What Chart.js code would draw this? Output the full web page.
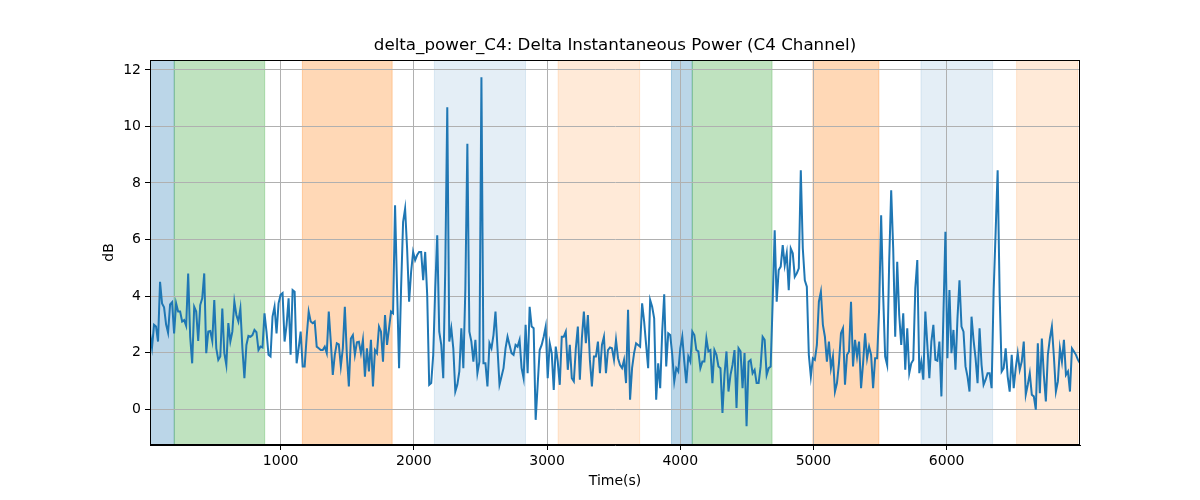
<!DOCTYPE html>
<html>
<head>
<meta charset="utf-8">
<title>delta_power_C4</title>
<script src="https://cdn.jsdelivr.net/npm/chart.js@4.4.1/dist/chart.umd.min.js"></script>
<style>
  html, body { margin: 0; padding: 0; background: #fff; }
  #wrap { width: 1200px; height: 500px; }
</style>
</head>
<body>
<div id="wrap"><canvas id="powerChart" width="1200" height="500"></canvas></div>
<script>
// sampling: first epoch time and step (seconds)
const T0 = 19;
const DT = 15.08;

// delta power in dB, one value per epoch
const deltaPower = [
  2.68, 2.18, 2.98, 2.92, 2.39, 4.5, 3.74, 3.6, 3.0, 2.7, 3.7, 3.78, 2.68, 3.74, 3.45, 3.45, 3.1, 3.15, 2.95, 4.8,
  2.56, 1.62, 3.62, 3.45, 2.41, 3.68, 3.92, 4.8, 1.98, 2.74, 2.76, 2.41, 3.86, 2.15, 1.74, 1.86, 3.56, 1.98, 1.56, 3.04,
  2.39, 2.74, 3.8, 3.33, 3.1, 3.56, 2.15, 1.09, 2.27, 2.59, 2.56,
  2.62, 2.8, 2.72, 2.09, 2.21, 2.18, 3.39, 2.74, 1.92, 1.86, 3.27, 3.62, 2.68, 3.74, 4.04, 4.1, 2.39, 2.98, 3.92, 1.92,
  4.21, 4.15, 1.62, 2.15, 2.74, 1.51, 1.51, 2.56, 3.45, 3.1, 3.04, 3.1, 2.21, 2.15, 2.09, 2.09, 2.21, 1.98, 3.45, 2.39,
  1.21, 1.92, 2.33, 2.29, 1.51, 2.15, 3.62, 1.92, 0.8, 2.5, 2.62, 1.92,
  2.36, 2.38, 1.98, 2.45, 1.15, 2.15, 1.33, 2.45, 0.8, 2.09, 1.98, 2.92, 2.74, 1.68, 3.33, 2.27, 2.86, 3.45, 3.39, 7.21,
  4.27, 1.45, 4.27, 6.62, 7.09, 5.68, 3.8, 4.86, 5.56, 5.27, 5.45, 5.56, 5.56, 4.56, 5.56, 4.04, 0.86, 0.92, 1.92, 4.27,
  6.15, 2.74, 2.27, 1.09, 4.98, 10.68, 2.39, 2.86, 2.15, 0.62, 0.86, 1.33, 2.86,
  1.45, 4.27, 9.39, 2.74, 2.39, 1.68, 2.45, 1.27, 1.68, 11.74, 1.62, 1.62, 0.8, 2.33, 2.15, 2.62, 3.45, 2.15, 0.86, 1.15,
  1.45, 2.15, 2.56, 2.27, 1.98, 1.92, 2.27, 2.21, 2.45, 1.45, 1.09, 2.98, 1.27, 3.62, 2.92, 2.86, -0.38, 0.86, 2.09, 2.27,
  2.56, 2.92, 1.09, 2.33, 1.98, 0.68, 2.21, 1.68, 0.86, 2.56, 2.56, 2.74,
  1.39, 2.27, 1.09, 0.98, 2.15, 2.92, 1.04, 2.5, 3.45, 2.33, 3.33, 1.74, 0.8, 1.86, 1.86, 2.39, 1.27, 2.27, 2.56, 1.27,
  2.09, 2.18, 2.15, 1.74, 2.45, 1.8, 1.56, 1.45, 1.74, 0.92, 3.51, 0.33, 1.45, 1.98, 2.33, 2.27, 2.21, 3.74, 3.1, 2.27,
  1.45, 3.86, 3.62, 3.21, 0.33, 1.62, 0.74, 2.74, 4.06, 1.51, 2.68, 2.62,
  1.92, 0.98, 1.45, 1.33, 2.15, 2.56, 1.68, 0.92, 1.86, 1.68, 2.74, 2.62, 2.09, 2.04, 1.45, 1.68, 1.68, 2.5, 2.04, 2.09,
  0.92, 2.09, 1.92, 1.51, 1.45, -0.14, 1.21, 2.04, 0.62, 1.21, 1.56, 2.09, 0.04, 2.15, 2.04, 0.74, 1.98, -0.61, 1.68, 1.74,
  1.27, 1.39, 0.92, 0.92, 1.51, 2.56, 2.45, 1.21, 1.45, 1.51, 3.8, 6.33, 3.8,
  4.92, 5.04, 5.8, 5.09, 5.51, 4.21, 5.68, 5.51, 4.68, 4.8, 4.98, 8.45, 5.68, 4.56, 4.33, 1.92, 1.15, 1.8, 1.74, 2.27,
  3.8, 4.15, 2.98, 2.56, 1.68, 2.39, 1.45, 1.86, 0.62, 0.92, 1.62, 2.68, 2.86, 0.86, 1.92, 2.04, 3.8, 1.51, 2.45, 1.86,
  2.39, 0.74, 1.62, 2.68, 1.8, 2.21, 1.92, 0.74, 1.8, 1.8, 3.56, 6.86,
  4.04, 1.86, 1.56, 5.21, 7.74, 5.68, 2.56, 5.21, 3.33, 2.27, 3.39, 1.39, 2.86, 1.27, 1.62, 1.74, 4.27, 5.27, 1.27, 1.68,
  1.04, 3.45, 2.27, 1.09, 2.39, 2.98, 1.74, 1.71, 2.39, 0.45, 3.33, 6.27, 1.8, 4.21, 1.98, 2.8, 1.39, 3.21, 4.56, 2.92,
  2.74, 1.51, 1.15, 0.62, 3.27, 2.45, 1.8, 0.92, 2.86, 1.56, 0.86, 1.04, 1.27,
  1.27, 0.74, 4.15, 6.27, 8.45, 4.04, 1.33, 1.45, 2.15, 1.15, 0.62, 1.92, 0.74, 1.45, 1.98, 1.39, 1.68, 2.39, 0.51, 0.86,
  1.27, 0.51, 0.45, -0.02, 2.33, 0.56, 2.5, 1.21, 0.27, 1.92, 2.5, 2.92, 1.86, 0.62, 0.98, 2.15, 1.68, 2.45, 1.21, 1.33,
  0.62, 2.15, 2.04, 1.92, 1.74, 1.62
];

// shaded stage bands: start, end (seconds) and colour
const bandStarts = [19, 201, 1163, 2154, 3083, 3934, 4090, 4996, 5807, 6525];
const bandEnds   = [201, 880, 1837, 2838, 3695, 4090, 4689, 5491, 6345, 6984];
const bandColors = [
  'rgba(31,119,180,0.3)', 'rgba(44,160,44,0.3)', 'rgba(255,127,14,0.3)',
  'rgba(31,119,180,0.12)', 'rgba(255,127,14,0.16)',
  'rgba(31,119,180,0.3)', 'rgba(44,160,44,0.3)', 'rgba(255,127,14,0.3)',
  'rgba(31,119,180,0.12)', 'rgba(255,127,14,0.16)'
];

const xTicks = [1000, 2000, 3000, 4000, 5000, 6000];
const yTicks = [0, 2, 4, 6, 8, 10, 12];
const chartTitle = 'delta_power_C4: Delta Instantaneous Power (C4 Channel)';

const points = deltaPower.map((v, i) => ({ x: T0 + i * DT, y: v }));
const xMax = T0 + (deltaPower.length - 1) * DT;

// draw the stage bands under the grid
const bandsPlugin = {
  id: 'bands',
  beforeDraw(chart) {
    const { ctx, chartArea, scales } = chart;
    ctx.save();
    ctx.beginPath();
    ctx.rect(chartArea.left, chartArea.top, chartArea.right - chartArea.left, chartArea.bottom - chartArea.top);
    ctx.clip();
    bandStarts.forEach((s, i) => {
      const x0 = scales.x.getPixelForValue(s);
      const x1 = scales.x.getPixelForValue(bandEnds[i]);
      ctx.fillStyle = bandColors[i];
      ctx.fillRect(x0, chartArea.top, x1 - x0, chartArea.bottom - chartArea.top);
      ctx.strokeStyle = bandColors[i];
      ctx.lineWidth = 1;
      ctx.strokeRect(x0, chartArea.top, x1 - x0, chartArea.bottom - chartArea.top);
    });
    ctx.restore();
  }
};

// full box around the plot like matplotlib spines, title centred on the plot area
const framePlugin = {
  id: 'frame',
  afterDraw(chart) {
    const { ctx, chartArea } = chart;
    ctx.save();
    ctx.strokeStyle = '#000';
    ctx.lineWidth = 1;
    ctx.strokeRect(chartArea.left + 0.5, chartArea.top + 0.5,
      chartArea.right - chartArea.left - 1, chartArea.bottom - chartArea.top - 1);
    ctx.fillStyle = '#000';
    ctx.font = "16.7px 'DejaVu Sans', sans-serif";
    ctx.textAlign = 'center';
    ctx.textBaseline = 'middle';
    ctx.fillText(chartTitle, (chartArea.left + chartArea.right) / 2, 46);
    ctx.restore();
  }
};

Chart.defaults.font.family = "'DejaVu Sans', sans-serif";
Chart.defaults.color = '#000';

new Chart(document.getElementById('powerChart'), {
  type: 'line',
  data: {
    datasets: [{
      data: points,
      borderColor: '#1f77b4',
      borderWidth: 2,
      pointRadius: 0,
      tension: 0,
      fill: false
    }]
  },
  options: {
    responsive: false,
    animation: false,
    events: [],
    layout: { padding: { left: 0, right: 120, top: 60, bottom: 0 } },
    plugins: {
      legend: { display: false },
      tooltip: { enabled: false },
      title: { display: false }
    },
    scales: {
      x: {
        type: 'linear',
        min: T0,
        max: xMax,
        afterFit(scale) { scale.height = 55; },
        afterBuildTicks(scale) { scale.ticks = xTicks.map(v => ({ value: v })); },
        grid: { color: '#b0b0b0', lineWidth: 1, tickLength: 5, tickColor: '#000' },
        border: { color: '#000', width: 1 },
        ticks: { padding: 3, maxRotation: 0, font: { size: 14 }, callback: v => String(v) },
        title: { display: true, text: 'Time(s)', font: { size: 14 }, padding: { top: 0, bottom: 10 } }
      },
      y: {
        type: 'linear',
        min: -1.27,
        max: 12.35,
        afterFit(scale) { scale.width = 150; },
        afterBuildTicks(scale) { scale.ticks = yTicks.map(v => ({ value: v })); },
        grid: { color: '#b0b0b0', lineWidth: 1, tickLength: 5, tickColor: '#000' },
        border: { color: '#000', width: 1 },
        ticks: { padding: 4, font: { size: 14 }, callback: v => String(v) },
        title: { display: true, text: 'dB', font: { size: 14 }, padding: { top: 101, bottom: 0 } }
      }
    }
  },
  plugins: [bandsPlugin, framePlugin]
});
</script>
</body>
</html>
